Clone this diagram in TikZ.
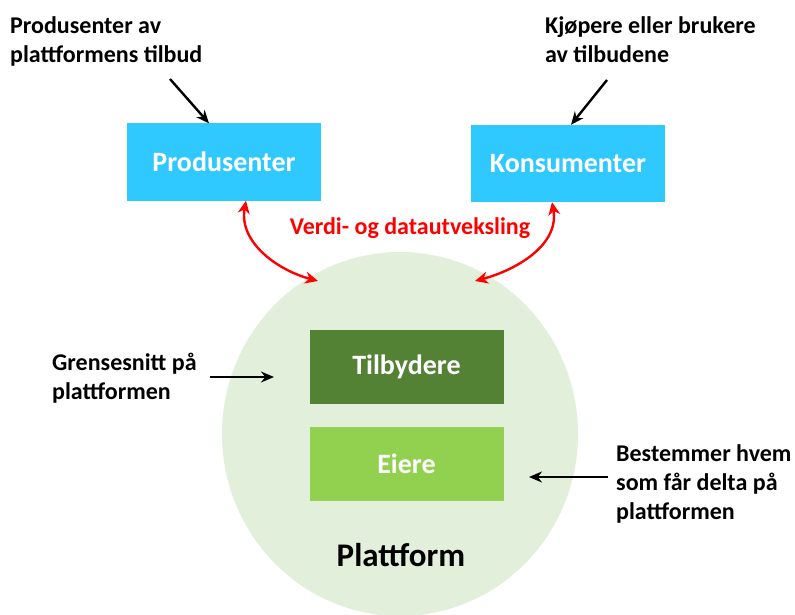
\documentclass[tikz,border=0pt]{standalone}
\usepackage{fontspec}
\setmainfont{Carlito}
\usetikzlibrary{arrows.meta}
\definecolor{boxblue}{HTML}{2FC8FF}
\definecolor{platbg}{HTML}{E2EFDA}
\definecolor{darkgreen}{HTML}{548235}
\definecolor{lightgreen}{HTML}{92D050}
\tikzset{
  bluebox/.style={fill=boxblue, minimum width=194bp, minimum height=77bp, text=white,
    font=\bfseries\fontsize{28bp}{32bp}\selectfont, inner sep=0pt},
  greenbox/.style={minimum width=194bp, minimum height=74bp, text=white,
    font=\bfseries\fontsize{28bp}{32bp}\selectfont, inner sep=0pt},
  note/.style={align=left, anchor=north west, inner sep=0pt,
    font=\bfseries\fontsize{24bp}{29bp}\selectfont},
  pointer/.style={-{Stealth[length=13bp,width=11bp]}, line width=2.4bp, black},
  exchange/.style={{Stealth[length=13bp,width=12bp]}-{Stealth[length=13bp,width=12bp]},
    line width=2.4bp, red},
}
\begin{document}
\begin{tikzpicture}[x=1bp, y=-1bp]
  \useasboundingbox (0,0) rectangle (795,615);

  % platform disc
  \begin{scope}
    \clip (0,0) rectangle (795,615);
    \fill[platbg] (400,434) ellipse [x radius=178, y radius=182];
  \end{scope}

  % boxes
  \node[bluebox] (prod) at (224,162) {Produsenter};
  \node[bluebox] (kons) at (568,163.5) {Konsumenter};
  \node[greenbox, fill=darkgreen] (tilb) at (406.5,367) {Tilbydere};
  \node[greenbox, fill=lightgreen] (eier) at (406.5,464) {Eiere};
  \node[font=\bfseries\fontsize{33bp}{36bp}\selectfont] (plat) at (401,555) {Plattform};

  % annotations
  \node[note] (nprod) at (10,16) {Produsenter av\\plattformens tilbud};
  \node[note] (nkons) at (545,16) {Kjøpere eller brukere\\av tilbudene};
  \node[note] (ngren) at (52,353) {Grensesnitt på\\plattformen};
  \node[note] (nbest) at (616,444) {Bestemmer hvem\\som får delta på\\plattformen};

  \node[text=red, font=\bfseries\fontsize{24bp}{28bp}\selectfont] (verdi) at (410,228) {Verdi- og datautveksling};

  % connector end points
  \coordinate (ap1) at (170,79);
  \coordinate (ap2) at (607,80);
  \coordinate (ag1) at (210,377);
  \coordinate (ag2) at (274,377);
  \coordinate (ab1) at (608,477);
  \coordinate (ab2) at (529,477);
  \coordinate (ex1) at (318,281);
  \coordinate (ex2) at (475,281);

  \draw[pointer] (ap1) -- (prod.north -| 209,0);
  \draw[pointer] (ap2) -- (kons.north -| 571,0);
  \draw[pointer] (ag1) -- (ag2);
  \draw[pointer] (ab1) -- (ab2);

  \draw[exchange] (prod.south -| 246,0) to[out=-100, in=165] (ex1);
  \draw[exchange] (kons.south -| 552,0) to[out=-80, in=15] (ex2);
\end{tikzpicture}
\end{document}
